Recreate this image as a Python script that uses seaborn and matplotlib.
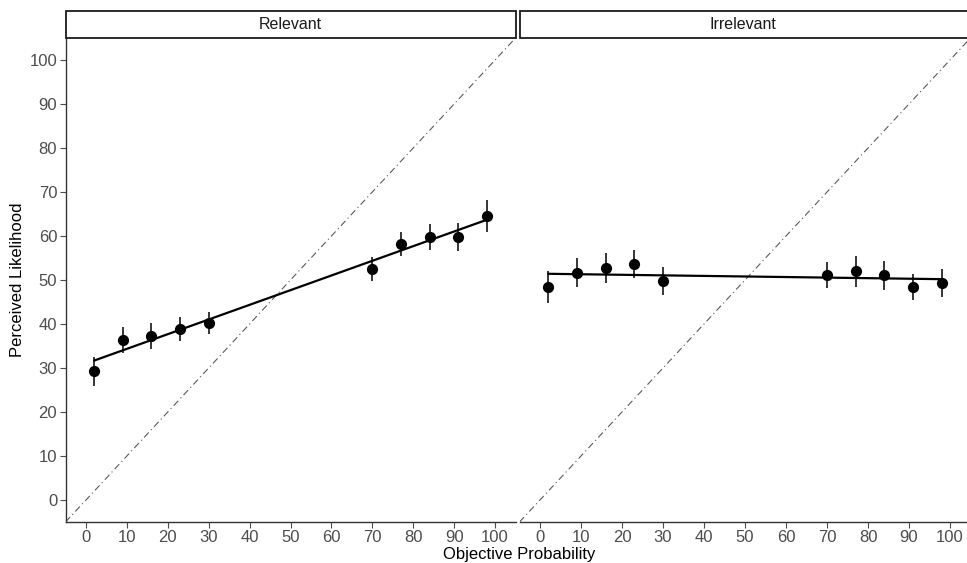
import numpy as np
import pandas as pd
import matplotlib
matplotlib.use("Agg")
import matplotlib.pyplot as plt
from matplotlib.patches import Rectangle
import seaborn as sns

# Objective probabilities shown to participants
objective = [2, 9, 16, 23, 30, 70, 77, 84, 91, 98]

# Mean perceived likelihood per condition, with error-bar half widths
relevant_mean = [29.3, 36.4, 37.3, 38.9, 40.2, 52.5, 58.2, 59.8, 59.8, 64.5]
relevant_err = [3.3, 3.0, 3.0, 2.7, 2.5, 2.8, 2.8, 2.9, 3.2, 3.6]
irrelevant_mean = [48.4, 51.6, 52.7, 53.6, 49.8, 51.1, 52.0, 51.1, 48.4, 49.3]
irrelevant_err = [3.6, 3.3, 3.4, 3.2, 3.2, 3.0, 3.5, 3.3, 3.0, 3.2]

panels = ["Relevant", "Irrelevant"]
y_ticks = list(range(0, 101, 10))
x_ticks = list(range(0, 101, 10))

sns.set_theme(style="white")
plt.rcParams["font.family"] = ["Liberation Sans", "DejaVu Sans"]

fig = plt.figure(figsize=(9.67, 5.63), dpi=100)
W, H = 967, 563


def frac(x0, x1, y0, y1):
    return [x0 / W, 1 - y1 / H, (x1 - x0) / W, (y1 - y0) / H]


# second panel runs slightly past the right edge of the canvas
boxes = [(65.5, 515.5), (519.5, 970.5)]
axes = [fig.add_axes(frac(x0, x1, 38, 522)) for x0, x1 in boxes]

data = {
    "Relevant": (relevant_mean, relevant_err),
    "Irrelevant": (irrelevant_mean, irrelevant_err),
}

tick_col = "#4D4D4D"
strip_h = 27 / 484
for i, (ax, name) in enumerate(zip(axes, panels)):
    means, errs = data[name]
    df = pd.DataFrame({"x": objective, "y": means, "err": errs})

    # identity reference line
    ax.plot([-5, 105], [-5, 105], linestyle=(0, (6, 3, 1, 3)),
            color="#5a5a5a", linewidth=0.8, zorder=1)

    ax.errorbar(df["x"], df["y"], yerr=df["err"], fmt="none",
                ecolor="#262626", elinewidth=1.3, capsize=0, zorder=2)
    sns.regplot(data=df, x="x", y="y", ax=ax, ci=None, scatter=False,
                line_kws=dict(color="black", linewidth=1.6, zorder=3))
    sns.scatterplot(data=df, x="x", y="y", ax=ax, color="black", s=65,
                    edgecolor="black", linewidth=0, zorder=4)

    ax.set_xlim(-5, 105)
    ax.set_ylim(-5, 105)
    ax.set_xticks(x_ticks)
    ax.set_yticks(y_ticks)
    ax.set_xlabel("")
    ax.set_ylabel("")
    for s in ["top", "right"]:
        ax.spines[s].set_visible(False)
    ax.spines["bottom"].set_color("#333333")
    ax.spines["bottom"].set_linewidth(1.0)
    ax.tick_params(axis="both", colors=tick_col, labelcolor=tick_col,
                   labelsize=12, length=4, width=0.8, direction="out",
                   bottom=True, left=(i == 0), pad=2)
    if i == 0:
        ax.spines["left"].set_color("#333333")
        ax.spines["left"].set_linewidth(1.0)
    else:
        ax.spines["left"].set_visible(False)
        ax.set_yticklabels([])

    # facet strip
    rect = Rectangle((0, 1.0), 1.0, strip_h, transform=ax.transAxes,
                     facecolor="white", edgecolor="#1A1A1A", linewidth=1.3,
                     clip_on=False, zorder=5)
    ax.add_patch(rect)
    # centre the label on the visible part of the strip
    x0, x1 = boxes[i]
    cx = ((x0 + min(x1, W)) / 2 - x0) / (x1 - x0)
    ax.text(cx, 1.0 + strip_h / 2, name, transform=ax.transAxes,
            ha="center", va="center", fontsize=11.5, color="#1A1A1A",
            zorder=6)

fig.text(519 / W, 1 - 554 / H, "Objective Probability", ha="center",
         va="center", fontsize=12, color="black")
fig.text(18 / W, 1 - 280 / H, "Perceived Likelihood", ha="center",
         va="center", rotation=90, fontsize=12, color="black")

fig.savefig("out.png", dpi=100)
